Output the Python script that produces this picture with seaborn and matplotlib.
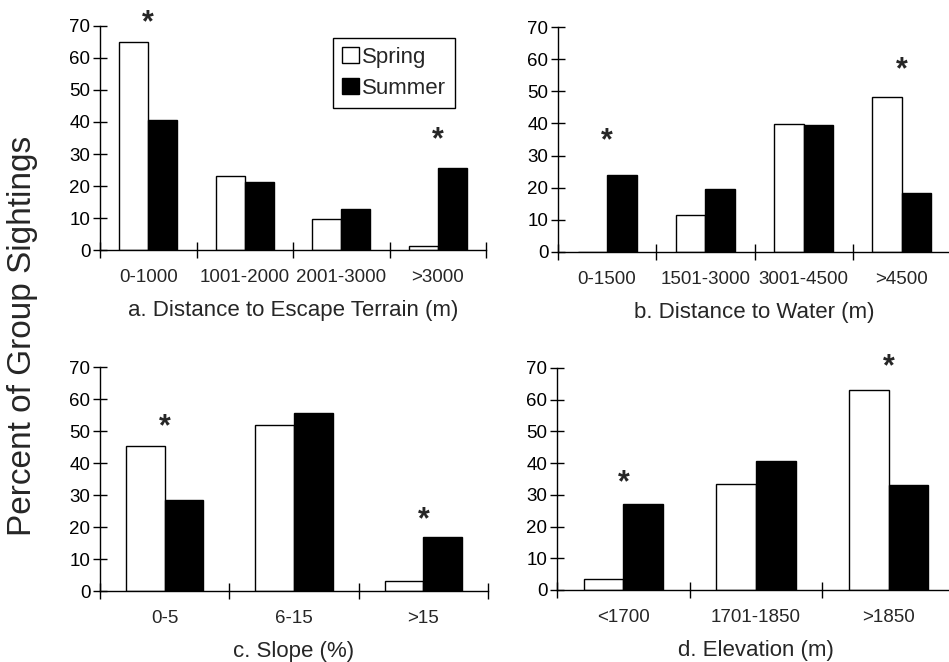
#!/usr/bin/env python3
from __future__ import annotations

import numpy as np
import pandas as pd
import seaborn as sns
import matplotlib
matplotlib.use("Agg")
from matplotlib import pyplot as plt
from matplotlib.patches import Patch

# Percent of group sightings per season.
seasons = ["Spring", "Summer"]

escape_bins = ["0-1000", "1001-2000", "2001-3000", ">3000"]
escape_spring = [65.0, 23.1, 9.8, 1.2]
escape_summer = [40.6, 21.4, 12.9, 25.5]
escape_stars = ["0-1000", ">3000"]
escape_star_y = [72.9, 36.5]

water_bins = ["0-1500", "1501-3000", "3001-4500", ">4500"]
water_spring = [0.0, 11.6, 39.8, 48.1]
water_summer = [24.0, 19.6, 39.5, 18.3]
water_stars = ["0-1500", ">4500"]
water_star_y = [36.6, 58.6]

slope_bins = ["0-5", "6-15", ">15"]
slope_spring = [45.3, 52.0, 3.1]
slope_summer = [28.4, 55.7, 16.9]
slope_stars = ["0-5", ">15"]
slope_star_y = [53.3, 24.3]

elev_bins = ["<1700", "1701-1850", ">1850"]
elev_spring = [3.5, 33.4, 63.2]
elev_summer = [27.2, 40.7, 33.0]
elev_stars = ["<1700", ">1850"]
elev_star_y = [35.8, 72.3]

panel_titles = [
    "a. Distance to Escape Terrain (m)",
    "b. Distance to Water (m)",
    "c. Slope (%)",
    "d. Elevation (m)",
]

season_colors = {"Spring": "white", "Summer": "black"}


def draw_panel(ax, bins, spring, summer, star_bins, star_y, title):
    df = pd.DataFrame(
        {
            "bin": bins * 2,
            "season": ["Spring"] * len(bins) + ["Summer"] * len(bins),
            "pct": spring + summer,
        }
    )
    sns.barplot(
        data=df, x="bin", y="pct", hue="season",
        order=bins, hue_order=seasons, palette=season_colors,
        width=0.6, saturation=1, errorbar=None,
        edgecolor="black", linewidth=1, legend=False, ax=ax,
    )
    n = len(bins)
    ax.set_xlim(-0.5, n - 0.5)
    ax.set_ylim(0, 70)
    ax.set_yticks(range(0, 71, 10))
    ax.set_xticks(np.arange(-0.5, n, 1.0), minor=True)
    for spine in ("top", "right"):
        ax.spines[spine].set_visible(False)
    for spine in ("left", "bottom"):
        ax.spines[spine].set_color("black")
        ax.spines[spine].set_linewidth(1)
    ax.tick_params(axis="y", left=True, direction="inout", length=10, width=1,
                   labelsize=13.5, pad=2, colors="black")
    ax.tick_params(axis="x", which="major", bottom=True, length=0,
                   labelsize=13.5, pad=14)
    ax.tick_params(axis="x", which="minor", bottom=True, direction="inout",
                   length=12, width=1, color="black")
    ax.set_xlabel(title, fontsize=16, labelpad=10)
    ax.set_ylabel("")
    for b, y in zip(star_bins, star_y):
        ax.annotate("*", (bins.index(b), y), xytext=(0, -5),
                    textcoords="offset points", ha="center", va="center",
                    fontsize=22, fontweight="bold", annotation_clip=False)


def main() -> None:
    sns.set_style("white")
    plt.rcParams["font.family"] = ["Liberation Sans", "DejaVu Sans"]

    fig = plt.figure(figsize=(9.49, 6.62), dpi=100)
    W, H = 949, 662
    ax_a = fig.add_axes([100 / W, 1 - 250 / H, 386 / W, 224 / H])
    ax_b = fig.add_axes([558 / W, 1 - 252 / H, 393 / W, 225 / H])
    ax_c = fig.add_axes([100 / W, 1 - 591 / H, 388 / W, 224 / H])
    ax_d = fig.add_axes([557 / W, 1 - 590 / H, 398 / W, 222 / H])

    draw_panel(ax_a, escape_bins, escape_spring, escape_summer,
               escape_stars, escape_star_y, panel_titles[0])
    draw_panel(ax_b, water_bins, water_spring, water_summer,
               water_stars, water_star_y, panel_titles[1])
    draw_panel(ax_c, slope_bins, slope_spring, slope_summer,
               slope_stars, slope_star_y, panel_titles[2])
    draw_panel(ax_d, elev_bins, elev_spring, elev_summer,
               elev_stars, elev_star_y, panel_titles[3])

    handles = [Patch(facecolor=season_colors[s], edgecolor="black", label=s)
               for s in seasons]
    leg = ax_a.legend(
        handles=handles, loc="upper left", bbox_to_anchor=(0.604, 0.946),
        borderaxespad=0, fontsize=16, handlelength=0.75, handleheight=0.75,
        handletextpad=0.15, borderpad=0.4, labelspacing=0.45,
        frameon=True, fancybox=False, framealpha=1,
    )
    leg.get_frame().set_edgecolor("black")
    leg.get_frame().set_linewidth(1)

    fig.text(0.0237, 0.492, "Percent of Group Sightings", rotation=90,
             ha="center", va="center", fontsize=24)

    fig.savefig("out.png", dpi=100)
    plt.close(fig)


if __name__ == "__main__":
    main()
